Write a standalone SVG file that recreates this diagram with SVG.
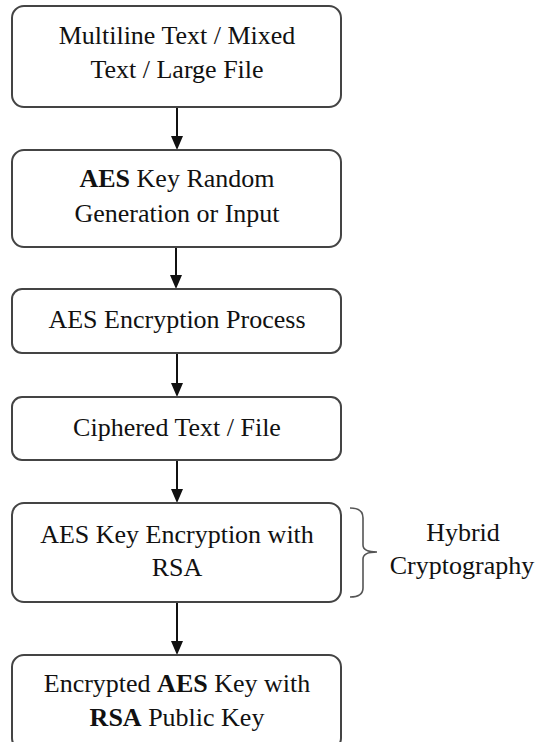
<svg xmlns="http://www.w3.org/2000/svg" width="540" height="742" viewBox="0 0 540 742">
<style>
.box{fill:#fff;stroke:#444;stroke-width:2}
.c{stroke:#111;stroke-width:2;fill:none}
</style>
<rect width="540" height="742" fill="#fff"/>
<g id="connectors">
<line class="c" x1="177" y1="107" x2="177" y2="140"/>
<line class="c" x1="176" y1="247" x2="176" y2="279"/>
<line class="c" x1="177" y1="353" x2="177" y2="387"/>
<line class="c" x1="177" y1="460" x2="177" y2="493"/>
<line class="c" x1="177" y1="602" x2="177" y2="645"/>
<path d="M171,136 L183,136 L177,150 Z M170,275 L182,275 L176,289 Z M171,383 L183,383 L177,397 Z M171,489 L183,489 L177,503 Z M171,641 L183,641 L177,655 Z" fill="#111"/>
</g>
<g id="n1">
<rect class="box" x="12" y="6" width="329" height="101" rx="12"/>
<text x="177" y="44" text-anchor="middle" fill="#111" style="font-family:Liberation Serif,serif !important;font-size:26px !important">Multiline Text / Mixed</text>
<text x="177" y="78" text-anchor="middle" fill="#111" style="font-family:Liberation Serif,serif !important;font-size:26px !important">Text / Large File</text>
</g>
<g id="n2">
<rect class="box" x="12" y="150" width="329" height="97" rx="12"/>
<text x="177" y="187" text-anchor="middle" fill="#111" style="font-family:Liberation Serif,serif !important;font-size:26px !important"><tspan font-weight="bold" style="font-family:Liberation Serif,serif !important">AES</tspan> Key Random</text>
<text x="177" y="222" text-anchor="middle" fill="#111" style="font-family:Liberation Serif,serif !important;font-size:26px !important">Generation or Input</text>
</g>
<g id="n3">
<rect class="box" x="12" y="289" width="329" height="64" rx="10"/>
<text x="177" y="328" text-anchor="middle" fill="#111" style="font-family:Liberation Serif,serif !important;font-size:26px !important">AES Encryption Process</text>
</g>
<g id="n4">
<rect class="box" x="12" y="397" width="329" height="63" rx="10"/>
<text x="177" y="436" text-anchor="middle" fill="#111" style="font-family:Liberation Serif,serif !important;font-size:26px !important">Ciphered Text / File</text>
</g>
<g id="n5">
<rect class="box" x="12" y="503" width="329" height="99" rx="12"/>
<text x="177" y="543" text-anchor="middle" fill="#111" style="font-family:Liberation Serif,serif !important;font-size:26px !important">AES Key Encryption with</text>
<text x="177" y="576" text-anchor="middle" fill="#111" style="font-family:Liberation Serif,serif !important;font-size:26px !important">RSA</text>
</g>
<g id="n6">
<rect class="box" x="12" y="655" width="329" height="95" rx="12"/>
<text x="177" y="692" text-anchor="middle" fill="#111" style="font-family:Liberation Serif,serif !important;font-size:26px !important">Encrypted <tspan font-weight="bold" style="font-family:Liberation Serif,serif !important">AES</tspan> Key with</text>
<text x="177" y="726" text-anchor="middle" fill="#111" style="font-family:Liberation Serif,serif !important;font-size:26px !important"><tspan font-weight="bold" style="font-family:Liberation Serif,serif !important">RSA</tspan> Public Key</text>
</g>
<g id="brace">
<path d="M350,508 Q363,508 363,518 L363,545 Q363,552 377,552 Q363,552 363,559 L363,588 Q363,597 350,597" fill="none" stroke="#555" stroke-width="1.6"/>
<text x="463" y="541" text-anchor="middle" fill="#111" style="font-family:Liberation Serif,serif !important;font-size:26px !important">Hybrid</text>
<text x="462" y="574" text-anchor="middle" fill="#111" style="font-family:Liberation Serif,serif !important;font-size:26px !important">Cryptography</text>
</g>
</svg>
